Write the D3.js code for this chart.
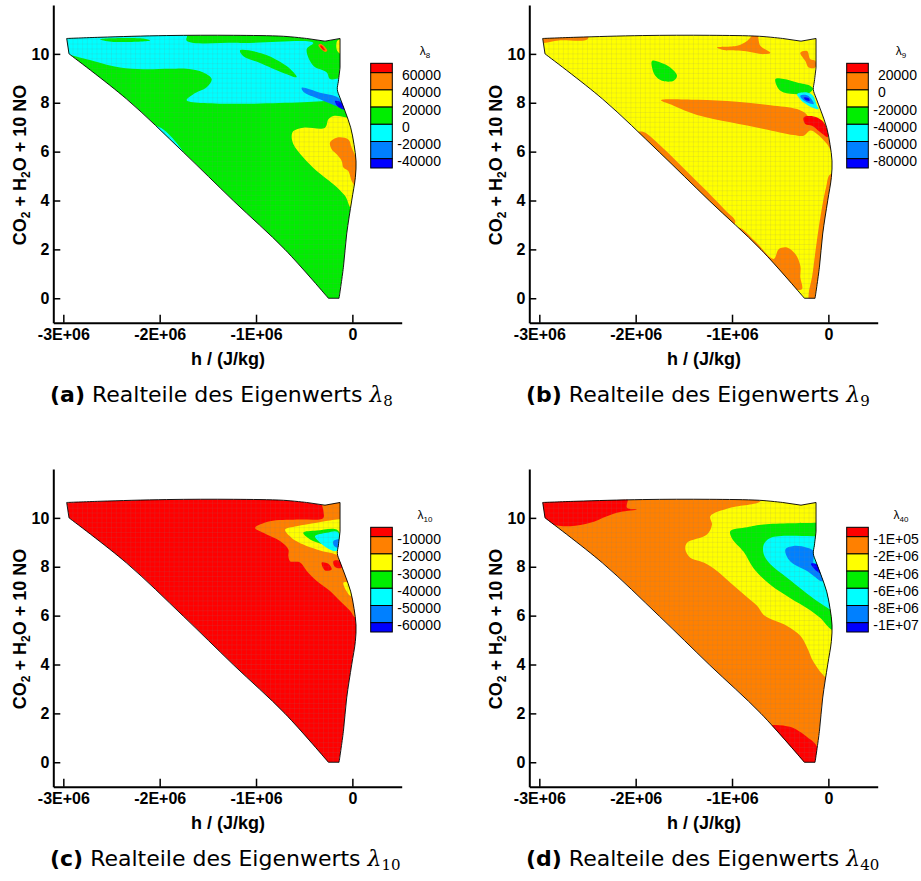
<!DOCTYPE html>
<html>
<head>
<meta charset="utf-8">
<script src="https://d3js.org/d3.v7.min.js"></script>
<style>
body { margin: 0; background: #fff; }
</style>
</head>
<body>
<div id="chart"></div>
<script>

// h values below are given in units of 1E+06 J/kg
var H = 1e6;

// contour level colours, from the highest band down to the lowest
var levelColors = ["#ff0000", "#ff8000", "#ffff00", "#00ee00", "#00ffff", "#0080ff", "#0000ff"];

var xMajor = [-3e6, -2e6, -1e6, 0];
var yMajor = [0, 2, 4, 6, 8, 10];

// border of the (h, CO2+H2O+10NO) domain, in pieces
var diagEdge = [[-2.941,10.0],[-2.343,8.15],[-1.755,5.98],[-1.235,3.99],[-0.699,1.99],[-0.249,0.0]];
var bottomEdge = [[-0.249,0.0],[-0.138,0.0]];
var rightEdge = [[-0.138,0.0],[-0.093,1.27],[-0.059,2.63],[-0.007,3.99],[0.031,4.94],[0.038,5.62],
  [0.017,6.3],[-0.017,6.98],[-0.076,7.66],[-0.128,8.2],[-0.156,8.54],[-0.145,8.88],[-0.128,9.43]];
var notchEdge = [[-0.128,9.43],[-0.128,10.63],[-0.284,10.52],[-0.474,10.63]];
var topEdge = [[-0.474,10.63],[-0.716,10.72],[-1.235,10.76],[-1.927,10.75],[-2.619,10.68],[-2.965,10.63]];

// (a) lambda 8
var legendA = ["60000", "40000", "20000", "0", "-20000", "-40000"];
var baseA = 3;
var regionsA = [
  {level: 4, pts: [[-3.0,10.79],[-1.72,10.79],[-1.72,10.54],[-1.166,10.45],[-0.405,10.45],[-0.474,10.19],[-0.405,9.51],[-0.266,9.24],[-0.232,8.97],[-0.093,8.97],[-0.093,8.2],[-0.197,8.10],[-1.72,8.10],[-1.651,8.35],[-1.512,8.63],[-1.46,8.97],[-1.547,9.24],[-1.72,9.39],[-1.893,9.39],[-2.17,9.37],[-2.412,9.44],[-2.689,9.71],[-2.948,9.99],[-3.0,10.12]]},
  {level: 3, pts: [[-2.62,10.6],[-2.17,10.63],[-2.1,10.55],[-2.5,10.5]]},
  {level: 3, pts: [[-1.166,10.14],[-0.924,10.0],[-0.682,9.50],[-0.578,9.05],[-0.716,9.22],[-0.958,9.63],[-1.131,9.90]]},
  {level: 5, pts: [[-0.526,8.61],[-0.336,8.41],[-0.145,8.20],[-0.093,7.80],[-0.163,7.86],[-0.336,8.14],[-0.509,8.45]]},
  {level: 6, pts: [[-0.18,8.07],[-0.111,8.0],[-0.076,7.73],[-0.145,7.82]]},
  {level: 2, pts: [[-0.63,6.64],[-0.612,6.84],[-0.509,6.98],[-0.284,6.98],[-0.249,7.32],[-0.197,7.46],[-0.076,7.41],[0.028,7.25],[0.08,5.62],[0.08,3.71],[-0.007,3.65],[-0.076,4.19],[-0.197,4.67],[-0.37,5.21],[-0.509,5.76],[-0.612,6.30]]},
  {level: 1, pts: [[-0.232,6.37],[-0.163,6.57],[-0.042,6.5],[-0.007,6.16],[0.045,5.62],[0.045,4.53],[-0.007,4.80],[-0.042,5.21],[-0.093,5.35],[-0.111,5.62],[-0.163,5.89],[-0.215,6.10]]},
  {level: 4, pts: [[-2.048,7.05],[-1.962,6.91],[-1.841,6.44],[-1.754,5.96],[-1.858,6.16],[-1.997,6.71]]},
  {level: 1, pts: [[-0.353,10.35],[-0.329,10.41],[-0.26,10.14],[-0.284,10.08]]},
  {level: 0, pts: [[-0.335,10.33],[-0.325,10.35],[-0.285,10.16],[-0.295,10.14]]},
  {level: 2, pts: [[-0.156,10.54],[-0.10,10.6],[-0.10,9.97],[-0.156,10.12]]}
];

// (b) lambda 9
var legendB = ["20000", "0", "-20000", "-40000", "-60000", "-80000"];
var baseB = 2;
var regionsB = [
  {level: 1, pts: [[-3.1,10.9],[-2.5,10.9],[-2.5,10.6],[-2.8,10.55],[-2.95,10.45],[-3.1,10.4]]},
  {level: 1, pts: [[-1.156,10.26],[-0.948,10.33],[-0.844,10.53],[-0.775,10.8],[-0.740,10.8],[-0.706,10.33],[-0.602,10.05],[-0.671,9.99],[-0.879,10.12],[-1.087,10.16]]},
  {level: 1, pts: [[-0.291,10.05],[-0.221,10.12],[-0.187,9.78],[-0.135,9.71],[-0.135,9.44],[-0.204,9.44],[-0.239,9.71]]},
  {level: 3, pts: [[-1.830,9.71],[-1.744,9.65],[-1.640,9.44],[-1.571,9.10],[-1.606,8.90],[-1.727,8.90],[-1.796,9.10],[-1.830,9.44]]},
  {level: 1, pts: [[-1.737,8.10],[-1.363,8.12],[-0.948,8.04],[-0.602,7.90],[-0.325,7.74],[-0.221,7.50],[-0.187,7.20],[-0.083,7.06],[0.003,6.52],[0.028,6.04],[-0.014,6.31],[-0.118,6.72],[-0.187,6.86],[-0.256,6.65],[-0.360,6.68],[-0.671,6.93],[-1.017,7.20],[-1.363,7.50],[-1.606,7.88]]},
  {level: 0, pts: [[-0.256,7.40],[-0.152,7.44],[-0.066,7.27],[-0.014,6.93],[-0.007,6.59],[-0.083,6.79],[-0.170,7.06],[-0.239,7.13]]},
  {level: 3, pts: [[-0.550,8.97],[-0.464,8.97],[-0.325,8.83],[-0.187,8.69],[-0.159,8.56],[-0.221,8.35],[-0.325,8.35],[-0.464,8.42],[-0.516,8.56]]},
  {level: 4, pts: [[-0.325,8.35],[-0.221,8.42],[-0.159,8.29],[-0.118,7.88],[-0.100,7.74],[-0.170,7.81],[-0.256,8.01],[-0.308,8.22]]},
  {level: 5, pts: [[-0.291,8.29],[-0.221,8.31],[-0.170,8.12],[-0.152,7.95],[-0.204,7.99],[-0.273,8.15]]},
  {level: 6, pts: [[-0.256,8.22],[-0.204,8.19],[-0.194,8.08],[-0.239,8.12]]},
  {level: 1, pts: [[-1.934,6.82],[-1.72,6.16],[-1.51,5.35],[-1.30,4.53],[-1.065,3.58],[-0.965,3.14],[-1.017,2.90],[-1.398,4.12],[-1.744,5.48],[-2.021,6.71]]},
  {level: 1, pts: [[-0.931,2.90],[-0.765,2.35],[-0.567,1.61],[-0.516,2.01],[-0.429,2.08],[-0.343,1.81],[-0.291,1.33],[-0.291,0.86],[-0.273,0.38],[-0.325,0.31],[-0.394,-0.10],[-0.983,2.63]]},
  {level: 1, pts: [[-0.204,0.18],[-0.170,0.86],[-0.142,1.67],[-0.083,3.31],[-0.024,4.53],[0.021,5.07],[0.2,5.07],[0.2,-0.2],[-0.19,-0.2]]}
];

// (c) lambda 10
var legendC = ["-10000", "-20000", "-30000", "-40000", "-50000", "-60000"];
var baseC = 0;
var regionsC = [
  {level: 1, pts: [[-0.318,10.9],[0.1,10.9],[0.1,5.8],[0.028,5.92],[-0.024,6.20],[-0.128,6.60],[-0.232,7.01],[-0.370,7.42],[-0.474,7.83],[-0.543,8.17],[-0.647,8.23],[-0.664,8.44],[-0.664,8.71],[-0.751,9.05],[-0.924,9.39],[-1.010,9.59],[-0.855,9.86],[-0.578,9.93],[-0.301,10.0],[-0.30,10.27]]},
  {level: 2, pts: [[-0.699,9.52],[-0.578,9.66],[-0.370,9.80],[-0.163,9.93],[-0.10,9.93],[-0.10,8.51],[-0.232,8.57],[-0.370,8.71],[-0.509,8.91],[-0.630,9.18]]},
  {level: 3, pts: [[-0.509,9.39],[-0.370,9.48],[-0.163,9.52],[-0.12,9.18],[-0.197,8.78],[-0.301,8.91],[-0.439,9.12]]},
  {level: 4, pts: [[-0.388,9.25],[-0.266,9.39],[-0.156,9.43],[-0.12,8.91],[-0.170,8.64],[-0.266,8.78],[-0.353,9.05]]},
  {level: 5, pts: [[-0.197,9.05],[-0.12,9.12],[-0.12,8.78],[-0.190,8.85]]},
  {level: 0, pts: [[-0.318,8.17],[-0.249,8.12],[-0.215,7.89],[-0.284,7.85]]},
  {level: 0, pts: [[-0.197,8.23],[-0.128,8.23],[-0.111,7.96],[-0.180,7.99]]},
  {level: 2, pts: [[-0.093,7.35],[0.0,7.3],[0.05,6.74],[-0.024,6.81]]}
];

// (d) lambda 40
var legendD = ["-1E+05", "-2E+06", "-4E+06", "-6E+06", "-8E+06", "-1E+07"];
var baseD = 1;
var regionsD = [
  {level: 0, pts: [[-3.1,10.9],[-2.09,10.9],[-2.09,10.41],[-1.986,10.34],[-2.159,10.24],[-2.298,10.07],[-2.471,9.80],[-2.678,9.66],[-2.886,9.73],[-3.1,10.0]]},
  {level: 2, pts: [[-0.706,10.9],[0.2,10.9],[0.2,2.93],[-0.014,3.41],[-0.152,4.09],[-0.221,4.70],[-0.291,5.18],[-0.429,5.58],[-0.533,5.76],[-0.671,6.03],[-0.740,6.40],[-0.879,6.88],[-1.017,7.35],[-1.156,7.83],[-1.294,8.17],[-1.433,8.37],[-1.484,8.71],[-1.467,8.98],[-1.260,9.32],[-1.208,9.73],[-1.225,10.07],[-1.017,10.41],[-0.706,10.68]]},
  {level: 3, pts: [[-1.017,9.46],[-0.844,9.62],[-0.671,9.73],[-0.083,9.80],[0.125,9.80],[0.125,5.38],[0.038,5.41],[-0.083,5.90],[-0.221,6.30],[-0.394,6.71],[-0.602,7.26],[-0.775,7.93],[-0.879,8.61],[-1.0,9.16]]},
  {level: 4, pts: [[-0.602,9.18],[-0.135,9.25],[0.125,9.25],[0.125,6.2],[0.038,6.20],[-0.014,6.33],[-0.118,6.60],[-0.256,7.01],[-0.429,7.55],[-0.602,8.10],[-0.671,8.51],[-0.671,8.91]]},
  {level: 5, pts: [[-0.446,8.71],[-0.360,8.85],[-0.221,8.78],[-0.152,8.64],[-0.152,8.10],[-0.083,7.83],[-0.048,7.42],[-0.083,7.42],[-0.152,7.62],[-0.221,7.83],[-0.325,8.03],[-0.412,8.30]]},
  {level: 6, pts: [[-0.18,8.12],[-0.12,8.1],[-0.06,7.7],[-0.13,7.85]]},
  {level: 0, pts: [[-0.62,1.45],[-0.40,1.45],[-0.221,1.03],[-0.118,0.63],[-0.135,-0.1],[-0.30,-0.1],[-0.45,0.5]]}
];

var svg = d3.select("#chart").append("svg")
    .attr("width", 921)
    .attr("height", 881);

var sans = "'Liberation Sans', Arial, Helvetica, sans-serif";

function drawPanel(ox, oy, id, base, regions, legendLabels, sub, letter) {
  var g = svg.append("g").attr("transform", "translate(" + ox + "," + oy + ")");

  var x = d3.scaleLinear().domain([-3.104e6, 0.512e6]).range([53.3, 401.7]);
  var y = d3.scaleLinear().domain([-1, 12]).range([322.7, 5]);

  var lineWith = function(curve) {
    return d3.line()
      .x(function(d) { return x(d[0] * H); })
      .y(function(d) { return y(d[1]); })
      .curve(curve);
  };
  // smooth edges joined with sharp corners
  var borderD = [
      [diagEdge, d3.curveCatmullRom.alpha(0.5)],
      [bottomEdge, d3.curveLinear],
      [rightEdge, d3.curveCatmullRom.alpha(0.5)],
      [notchEdge, d3.curveLinear],
      [topEdge, d3.curveCatmullRom.alpha(0.5)]
    ].map(function(p, i) {
      var s = lineWith(p[1])(p[0]);
      return i === 0 ? s : s.replace(/^M/, "L");
    }).join("") + "Z";
  var smooth = lineWith(d3.curveCatmullRomClosed.alpha(0.5));

  g.append("clipPath").attr("id", "clip" + id)
    .append("path").attr("d", borderD);

  var field = g.append("g").attr("clip-path", "url(#clip" + id + ")");
  field.append("path")
      .attr("d", borderD)
      .attr("fill", levelColors[base]);
  field.selectAll("path.region")
    .data(regions)
    .enter().append("path")
      .attr("class", "region")
      .attr("d", function(d) { return smooth(d.pts); })
      .attr("fill", function(d) { return levelColors[d.level]; });

  // faint computational mesh over the field
  var mesh = field.append("g")
      .attr("stroke", "#808080")
      .attr("stroke-opacity", 0.22)
      .attr("stroke-width", 0.6);
  mesh.selectAll("line.mv")
    .data(d3.range(-3.0, 0.11, 0.05))
    .enter().append("line")
      .attr("x1", function(d) { return x(d * H); }).attr("x2", function(d) { return x(d * H); })
      .attr("y1", y(-0.2)).attr("y2", y(11));
  mesh.selectAll("line.mh")
    .data(d3.range(0, 10.9, 0.2))
    .enter().append("line")
      .attr("x1", x(-3.1e6)).attr("x2", x(0.2e6))
      .attr("y1", function(d) { return y(d); }).attr("y2", function(d) { return y(d); });

  g.append("path")
      .attr("d", borderD)
      .attr("fill", "none")
      .attr("stroke", "#000")
      .attr("stroke-width", 0.9);

  // axes, ticks pointing inwards
  var minorX = d3.range(-3.0, 0.41, 0.2).map(function(v) { return v * H; });
  var minorY = d3.range(-0.5, 12.01, 0.5);

  var gx = g.append("g").attr("transform", "translate(0,322.7)");
  gx.call(d3.axisBottom(x).tickValues(minorX).tickSizeInner(-4).tickSizeOuter(0).tickFormat(""));
  gx.call(d3.axisBottom(x).tickValues(xMajor).tickSizeInner(-8).tickSizeOuter(0).tickPadding(6)
      .tickFormat(function(v) { return v === 0 ? "0" : String(Math.round(v / H)) + "E+06"; }));

  var gy = g.append("g").attr("transform", "translate(53.3,0)");
  gy.call(d3.axisLeft(y).tickValues(minorY).tickSizeInner(-4).tickSizeOuter(0).tickFormat(""));
  gy.call(d3.axisLeft(y).tickValues(yMajor).tickSizeInner(-7).tickSizeOuter(0).tickPadding(4)
      .tickFormat(function(v) { return String(v); }));

  [gx, gy].forEach(function(a) {
    a.attr("font-family", sans).attr("font-size", 16).attr("font-weight", "bold");
    a.selectAll(".domain").attr("stroke-width", 2);
    a.selectAll(".tick line").attr("stroke-width", 1.5);
    a.selectAll("text").attr("fill", "#000");
  });

  g.append("text")
      .attr("x", 228).attr("y", 365)
      .attr("text-anchor", "middle")
      .attr("font-family", sans).attr("font-size", 18).attr("font-weight", "bold")
      .text("h / (J/kg)");

  var yt = g.append("text")
      .attr("transform", "translate(26,165) rotate(-90)")
      .attr("text-anchor", "middle")
      .attr("font-family", sans).attr("font-size", 18).attr("font-weight", "bold");
  yt.append("tspan").text("CO");
  yt.append("tspan").attr("font-size", 12).attr("dy", 4).text("2");
  yt.append("tspan").attr("dy", -4).text(" + H");
  yt.append("tspan").attr("font-size", 12).attr("dy", 4).text("2");
  yt.append("tspan").attr("dy", -4).text("O + 10 NO");

  // legend
  var ly = d3.scaleLinear().domain([0, 5]).range([72.7, 158.7]);
  var bandTop = function(i) { return i === 0 ? 63.3 : ly(i - 1); };
  var bandBot = function(i) { return i === 6 ? 168 : ly(i); };
  g.selectAll("rect.band")
    .data(levelColors)
    .enter().append("rect")
      .attr("class", "band")
      .attr("x", 370.7)
      .attr("y", function(d, i) { return bandTop(i); })
      .attr("width", 21.6)
      .attr("height", function(d, i) { return bandBot(i) - bandTop(i); })
      .attr("fill", function(d) { return d; })
      .attr("stroke", "#000")
      .attr("stroke-width", 1);

  var probe = g.append("text").attr("font-family", sans).attr("font-size", 14).text("-");
  var minusW = probe.node().getComputedTextLength();
  probe.remove();

  g.selectAll("text.lab")
    .data(legendLabels)
    .enter().append("text")
      .attr("class", "lab")
      .attr("x", function(d) { return d.charAt(0) === "-" ? 402 - minusW : 402; })
      .attr("y", function(d, i) { return ly(i) + 7.5; })
      .attr("font-family", sans).attr("font-size", 14)
      .text(function(d) { return d; });

  var lt = g.append("text")
      .attr("x", 425).attr("y", 55)
      .attr("text-anchor", "middle")
      .attr("font-family", sans).attr("font-size", 12);
  lt.append("tspan").text("λ");
  lt.append("tspan").attr("font-size", 8).attr("dy", 3).text(sub);

  // caption
  var cap = g.append("text")
      .attr("x", 50).attr("y", 402)
      .attr("font-family", "'DejaVu Sans', sans-serif").attr("font-size", 22);
  cap.append("tspan").attr("font-weight", "bold").text("(" + letter + ")");
  cap.append("tspan").text(" Realteile des Eigenwerts ");
  cap.append("tspan").attr("font-family", "'DejaVu Serif', serif").attr("font-style", "italic").text("λ");
  cap.append("tspan").attr("font-family", "'DejaVu Serif', serif").attr("font-size", 15).attr("dy", 4).text(sub);
}

drawPanel(0, 0, "a", baseA, regionsA, legendA, "8", "a");
drawPanel(476, 0, "b", baseB, regionsB, legendB, "9", "b");
drawPanel(0, 464, "c", baseC, regionsC, legendC, "10", "c");
drawPanel(476, 464, "d", baseD, regionsD, legendD, "40", "d");

</script>
</body>
</html>
